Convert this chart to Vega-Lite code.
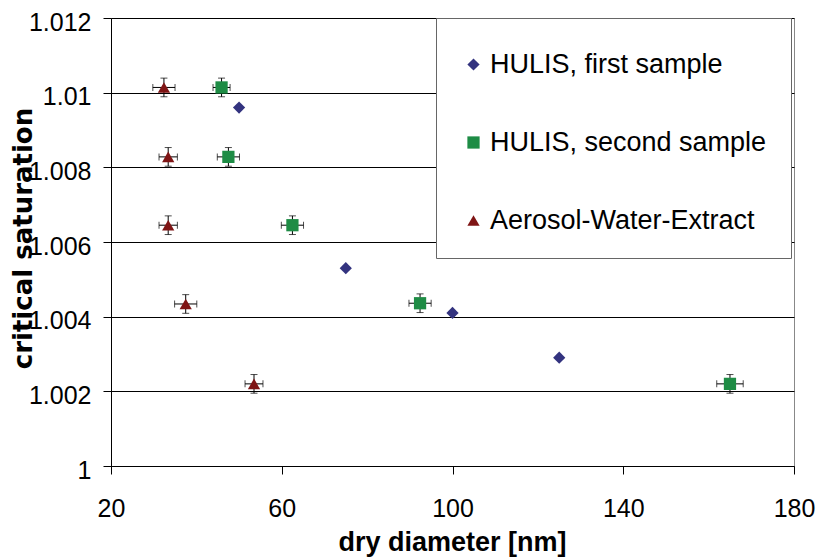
{
  "$schema": "https://vega.github.io/schema/vega-lite/v6.json",
  "autosize": "none",
  "width": 683,
  "height": 448,
  "padding": {"left": 111, "top": 18, "right": 23, "bottom": 91},
  "background": "white",
  "config": {
    "font": "Liberation Sans",
    "view": {"stroke": "#888888", "strokeWidth": 1},
    "axis": {"domainColor": "black", "tickColor": "black", "labelColor": "black", "titleColor": "black"}
  },
  "data": {
    "values": [
      {"series": "HULIS, first sample", "d": 50, "s": 1.0096, "dlo": null, "dhi": null, "slo": null, "shi": null},
      {"series": "HULIS, first sample", "d": 75, "s": 1.0053, "dlo": null, "dhi": null, "slo": null, "shi": null},
      {"series": "HULIS, first sample", "d": 100, "s": 1.0041, "dlo": null, "dhi": null, "slo": null, "shi": null},
      {"series": "HULIS, first sample", "d": 125, "s": 1.0029, "dlo": null, "dhi": null, "slo": null, "shi": null},
      {"series": "HULIS, second sample", "d": 45.9, "s": 1.01014, "dlo": 43.9, "dhi": 47.9, "slo": 1.00989, "shi": 1.01039},
      {"series": "HULIS, second sample", "d": 47.5, "s": 1.00828, "dlo": 44.9, "dhi": 50.1, "slo": 1.00803, "shi": 1.00853},
      {"series": "HULIS, second sample", "d": 62.5, "s": 1.00645, "dlo": 59.9, "dhi": 65.1, "slo": 1.0062, "shi": 1.0067},
      {"series": "HULIS, second sample", "d": 92.4, "s": 1.00436, "dlo": 89.8, "dhi": 95.0, "slo": 1.00411, "shi": 1.00461},
      {"series": "HULIS, second sample", "d": 165, "s": 1.0022, "dlo": 161.9, "dhi": 168.1, "slo": 1.00195, "shi": 1.00245},
      {"series": "Aerosol-Water-Extract", "d": 32.4, "s": 1.01014, "dlo": 29.8, "dhi": 35.0, "slo": 1.00989, "shi": 1.01039},
      {"series": "Aerosol-Water-Extract", "d": 33.4, "s": 1.00828, "dlo": 31.25, "dhi": 35.55, "slo": 1.00803, "shi": 1.00853},
      {"series": "Aerosol-Water-Extract", "d": 33.4, "s": 1.00645, "dlo": 31.25, "dhi": 35.55, "slo": 1.0062, "shi": 1.0067},
      {"series": "Aerosol-Water-Extract", "d": 37.5, "s": 1.00434, "dlo": 34.9, "dhi": 40.1, "slo": 1.00409, "shi": 1.00459},
      {"series": "Aerosol-Water-Extract", "d": 53.5, "s": 1.0022, "dlo": 51.4, "dhi": 55.6, "slo": 1.00195, "shi": 1.00245}
    ]
  },
  "layer": [
    {
      "transform": [{"filter": "datum.dlo != null"}],
      "mark": {"type": "errorbar", "color": "black", "thickness": 1, "ticks": {"size": 7, "color": "black"}},
      "encoding": {
        "x": {"field": "dlo", "type": "quantitative", "title": "dry diameter [nm]", "scale": {"domain": [20, 180], "nice": false}},
        "x2": {"field": "dhi"},
        "y": {"field": "s", "type": "quantitative", "title": "critical saturation", "scale": {"domain": [1, 1.012], "nice": false, "zero": false}}
      }
    },
    {
      "transform": [{"filter": "datum.slo != null"}],
      "mark": {"type": "errorbar", "color": "black", "thickness": 1, "ticks": {"size": 7, "color": "black"}},
      "encoding": {
        "x": {"field": "d", "type": "quantitative", "title": "dry diameter [nm]"},
        "y": {"field": "slo", "type": "quantitative", "title": "critical saturation"},
        "y2": {"field": "shi"}
      }
    },
    {
      "mark": {"type": "point", "filled": true, "opacity": 1, "size": 150},
      "encoding": {
        "x": {
          "field": "d", "type": "quantitative", "title": "dry diameter [nm]",
          "scale": {"domain": [20, 180], "nice": false},
          "axis": {
            "values": [20, 60, 100, 140, 180], "grid": false, "tickSize": 8,
            "labelFontSize": 25, "labelPadding": 22, "labelFlush": false,
            "titleFontSize": 27, "titleFontWeight": "bold",
            "titleX": 341, "titleY": 84, "titleBaseline": "alphabetic", "titleAnchor": "middle"
          }
        },
        "y": {
          "field": "s", "type": "quantitative", "title": "critical saturation",
          "scale": {"domain": [1, 1.012], "nice": false, "zero": false},
          "axis": {
            "values": [1, 1.002, 1.004, 1.006, 1.008, 1.01, 1.012], "format": ".4~f",
            "grid": true, "gridColor": "black", "gridWidth": 1, "gridOpacity": 1,
            "tickSize": 8, "labelFontSize": 25, "labelPadding": 12, "labelOffset": 4, "labelFlush": false,
            "titleFont": "DejaVu Sans", "titleFontSize": 26, "titleFontWeight": "bold",
            "titleX": -88, "titleY": 220, "titleAngle": 270, "titleBaseline": "middle", "titleAlign": "center"
          }
        },
        "shape": {
          "field": "series", "type": "nominal",
          "scale": {"domain": ["HULIS, first sample", "HULIS, second sample", "Aerosol-Water-Extract"], "range": ["diamond", "square", "triangle-up"]},
          "legend": {
            "title": " ", "titleFontSize": 1, "titlePadding": 8, "orient": "none", "legendX": 325, "legendY": 0,
            "fillColor": "white", "strokeColor": "#666666", "padding": 24,
            "rowPadding": 50, "labelFontSize": 27, "labelOffset": 3, "symbolSize": 150,
            "symbolStrokeWidth": 0, "labelLimit": 400, "labelColor": "black"
          }
        },
        "color": {
          "field": "series", "type": "nominal",
          "scale": {"domain": ["HULIS, first sample", "HULIS, second sample", "Aerosol-Water-Extract"], "range": ["#33337f", "#1e8c45", "#7f1515"]},
          "legend": {
            "title": " ", "titleFontSize": 1, "titlePadding": 8, "orient": "none", "legendX": 325, "legendY": 0,
            "fillColor": "white", "strokeColor": "#666666", "padding": 24,
            "rowPadding": 50, "labelFontSize": 27, "labelOffset": 3, "symbolSize": 150,
            "symbolStrokeWidth": 0, "labelLimit": 400, "labelColor": "black"
          }
        }
      }
    }
  ]
}
